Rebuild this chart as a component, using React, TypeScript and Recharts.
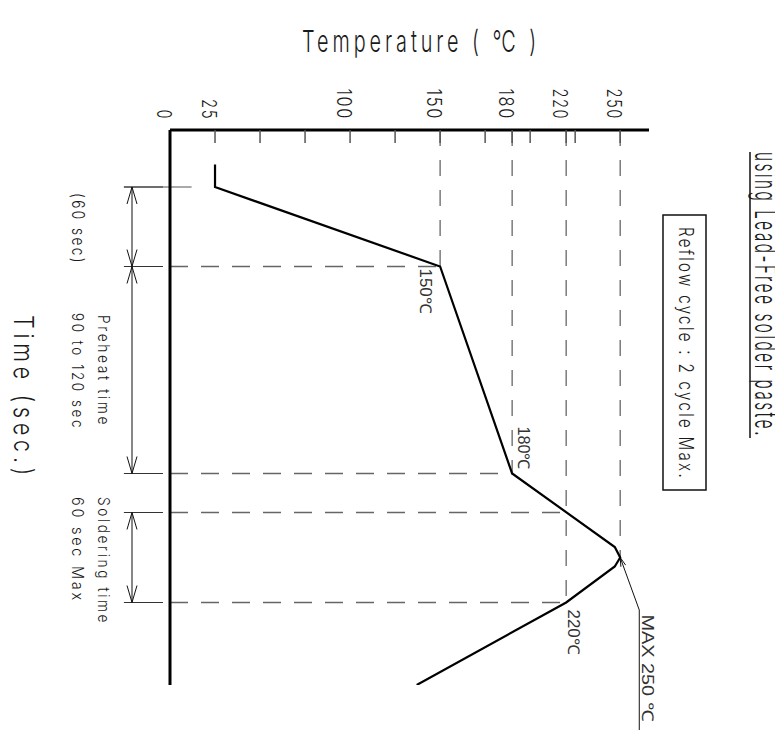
import React from 'react'
import { LineChart, Line, XAxis, YAxis, ReferenceLine, ReferenceDot } from 'recharts'

// reflow profile: time (drawing seconds) / temperature (°C)
const profileTime = [23, 38, 91, 229, 278, 285, 291, 315, 370]
const profileTemp = [25, 25, 150, 180, 247, 250, 247, 220, 137]

// printed labels on the temperature axis
const tempLabels = [0, 25, 100, 150, 180, 220, 250]
// tick marks along the temperature axis (drawing units)
const gridTicks = [25, 50, 75, 100, 125, 150, 175, 200, 225, 250]

// the drawing squeezes its scale between 150 and 220 (180 sits at 190 units)
const scaleTemp = [0, 150, 180, 220, 300]
const scaleUnit = [0, 150, 190, 220, 300]

// times where the dimension marks sit, and the temperature each guide runs to
const markTime = [91, 229, 255, 315]
const markTemp = [150, 180, 220, 220]
const rampStart = 38

// temperature guides running up to the axis, and the time where each one stops
const guideTemp = [150, 180, 220, 250]
const guideTime = [91, 229, 315, 285]

// dimension spans on the left
const dimSpans = [[38, 91], [91, 229], [255, 315]]

const T_MAX = 370
const U_MAX = 266
const TOP = 130
const CAD = "Inter, 'DejaVu Sans', sans-serif"
const SANS = "'Liberation Sans', Arial, sans-serif"
const DASH = '#666'

const toUnit = (c: number) => {
  for (let i = 1; i < scaleTemp.length; i++) {
    if (c <= scaleTemp[i]) {
      const f = (c - scaleTemp[i - 1]) / (scaleTemp[i] - scaleTemp[i - 1])
      return scaleUnit[i - 1] + f * (scaleUnit[i] - scaleUnit[i - 1])
    }
  }
  return c
}

const profile = profileTime.map((t, i) => ({ t, pos: toUnit(profileTemp[i]) }))
const axisTicks = Array.from(new Set([0, ...gridTicks, ...tempLabels.map(toUnit)])).sort((a, b) => a - b)

function Txt({ x, y, text, size, len, rot = 90, font = CAD, weight = 300, fill = '#1a1a1a', spacing = 0 }: any) {
  return (
    <text
      transform={`translate(${x} ${y}) rotate(${rot})`}
      fontSize={size}
      fontFamily={font}
      fontWeight={weight}
      fill={fill}
      letterSpacing={spacing}
      textLength={len}
      lengthAdjust="spacingAndGlyphs"
    >
      {text}
    </text>
  )
}

const TempTick = (props: any) => {
  const { x, payload } = props
  const label = tempLabels.find((c) => toUnit(c) === payload.value)
  const len = label != null ? String(label).length * 10.5 : 0
  return (
    <g>
      {payload.value > 0 && (
        <line x1={x} x2={x} y1={TOP} y2={TOP + 13} stroke="#555" strokeWidth={1.5} />
      )}
      {label != null && (
        <Txt x={x - 13} y={120 - len} text={String(label)} size={20} len={len} spacing={2} />
      )}
    </g>
  )
}

// line with open arrowheads on both ends
const DimShape = (p: any) => {
  const { x1, y1, x2, y2 } = p
  const a = 17
  const w = 5
  return (
    <g stroke="#111" strokeWidth={1} fill="none">
      <line x1={x1} y1={y1} x2={x2} y2={y2} />
      <polyline points={`${x1 - w},${y1 + a} ${x1},${y1} ${x1 + w},${y1 + a}`} />
      <polyline points={`${x2 - w},${y2 - a} ${x2},${y2} ${x2 + w},${y2 - a}`} />
    </g>
  )
}

// leader with a small arrow at its start
const LeaderShape = (p: any) => {
  const { x1, y1, x2, y2 } = p
  const d = Math.hypot(x2 - x1, y2 - y1)
  const ux = (x2 - x1) / d
  const uy = (y2 - y1) / d
  const a = 9
  const w = 2.5
  return (
    <g stroke="#111" strokeWidth={1} fill="none">
      <line x1={x1} y1={y1} x2={x2} y2={y2} />
      <polyline
        points={`${x1 + ux * a - uy * w},${y1 + uy * a + ux * w} ${x1},${y1} ${x1 + ux * a + uy * w},${y1 + uy * a - ux * w}`}
      />
    </g>
  )
}

const pointLabel = (text: string, dx: number, dy: number, len: number) => (p: any) => (
  <Txt x={p.cx + dx} y={p.cy + dy} text={text} size={16} len={len} font={SANS} weight={400} fill="#333" />
)

export default function App() {
  return (
    <div style={{ position: 'absolute', left: 0, top: 0, width: 775, height: 748, background: '#fff' }}>
      <LineChart
        layout="vertical"
        width={775}
        height={748}
        data={profile}
        margin={{ top: TOP - 1, right: 126, bottom: 63, left: 169 }}
      >
        <XAxis
          type="number"
          xAxisId={0}
          orientation="top"
          domain={[0, U_MAX]}
          ticks={axisTicks}
          interval={0}
          tick={TempTick}
          tickLine={false}
          axisLine={{ stroke: '#000', strokeWidth: 3 }}
          height={1}
          allowDataOverflow
        />
        <YAxis
          type="number"
          dataKey="t"
          domain={[0, T_MAX]}
          width={1}
          tick={false}
          tickLine={false}
          axisLine={{ stroke: '#000', strokeWidth: 3 }}
          allowDataOverflow
        />

        {/* temperature guides */}
        {guideTemp.map((c, i) => (
          <ReferenceLine
            key={`g${c}`}
            segment={[{ x: toUnit(c), y: 0 }, { x: toUnit(c), y: guideTime[i] }]}
            stroke={DASH}
            strokeWidth={1.3}
            strokeDasharray="16 14"
          />
        ))}

        {/* time guides */}
        {markTime.map((t, i) => (
          <ReferenceLine
            key={`h${t}`}
            segment={[{ x: 0, y: t }, { x: toUnit(markTemp[i]), y: t }]}
            stroke={DASH}
            strokeWidth={1.3}
            strokeDasharray="18 13"
          />
        ))}
        <ReferenceLine
          segment={[{ x: -25.6, y: rampStart }, { x: 12, y: rampStart }]}
          stroke="#555"
          strokeWidth={1}
          ifOverflow="visible"
        />
        {[rampStart, ...markTime].map((t) => (
          <ReferenceLine
            key={`e${t}`}
            segment={[{ x: -25.6, y: t }, { x: -3.9, y: t }]}
            stroke="#333"
            strokeWidth={1}
            ifOverflow="visible"
          />
        ))}

        {/* dimension lines */}
        {dimSpans.map(([a, b]) => (
          <ReferenceLine
            key={`d${a}`}
            segment={[{ x: -21.1, y: a }, { x: -21.1, y: b }]}
            shape={DimShape}
            ifOverflow="visible"
          />
        ))}

        {/* MAX 250 leader */}
        <ReferenceLine
          segment={[{ x: toUnit(250), y: 285 }, { x: 260.6, y: 320 }]}
          shape={LeaderShape}
          ifOverflow="visible"
        />
        <ReferenceLine
          segment={[{ x: 260.6, y: 320 }, { x: 260.6, y: 400 }]}
          stroke="#111"
          strokeWidth={1}
          ifOverflow="visible"
        />

        <Line
          dataKey="pos"
          type="linear"
          stroke="#000"
          strokeWidth={2.2}
          dot={false}
          isAnimationActive={false}
        />

        <ReferenceDot x={toUnit(150)} y={91} r={0} shape={pointLabel('150℃', -20, 2, 45)} />
        <ReferenceDot x={toUnit(180)} y={229} r={0} shape={pointLabel('180℃', 6, -47, 43)} />
        <ReferenceDot x={toUnit(220)} y={315} r={0} shape={pointLabel('220℃', 2, 7, 45)} />
        <ReferenceDot x={toUnit(250)} y={285} r={0} ifOverflow="visible" shape={pointLabel('MAX 250 ℃', 22, 57, 107)} />
      </LineChart>

      <svg
        width={775}
        height={748}
        style={{ position: 'absolute', left: 0, top: 0, pointerEvents: 'none' }}
      >
        <Txt x={302} y={52} rot={0} text="Temperature ( ℃ )" size={30} len={238} spacing={6} />

        <rect x={663} y={215} width={43} height={275} fill="none" stroke="#111" strokeWidth={1.5} />
        <Txt x={679} y={227} text="Reflow cycle : 2 cycle Max." size={20} len={253} spacing={3} />

        <line x1={750} y1={152} x2={750} y2={438} stroke="#111" strokeWidth={1.5} />
        <Txt x={755} y={152} text="using Lead-Free solder paste." size={30} len={286} spacing={5} />

        <Txt x={72} y={193} text="(60 sec)" size={17} len={72} spacing={3} />
        <Txt x={98} y={315} text="Preheat time" size={16} len={112} spacing={3} />
        <Txt x={72} y={313} text="90 to 120 sec" size={16} len={117} spacing={3} />
        <Txt x={14} y={315} text="Time (sec.)" size={27} len={165} spacing={6} />
        <Txt x={98} y={497} text="Soldering time" size={16} len={128} spacing={3} />
        <Txt x={72} y={497} text="60 sec Max" size={16} len={106} spacing={3} />
      </svg>
    </div>
  )
}
